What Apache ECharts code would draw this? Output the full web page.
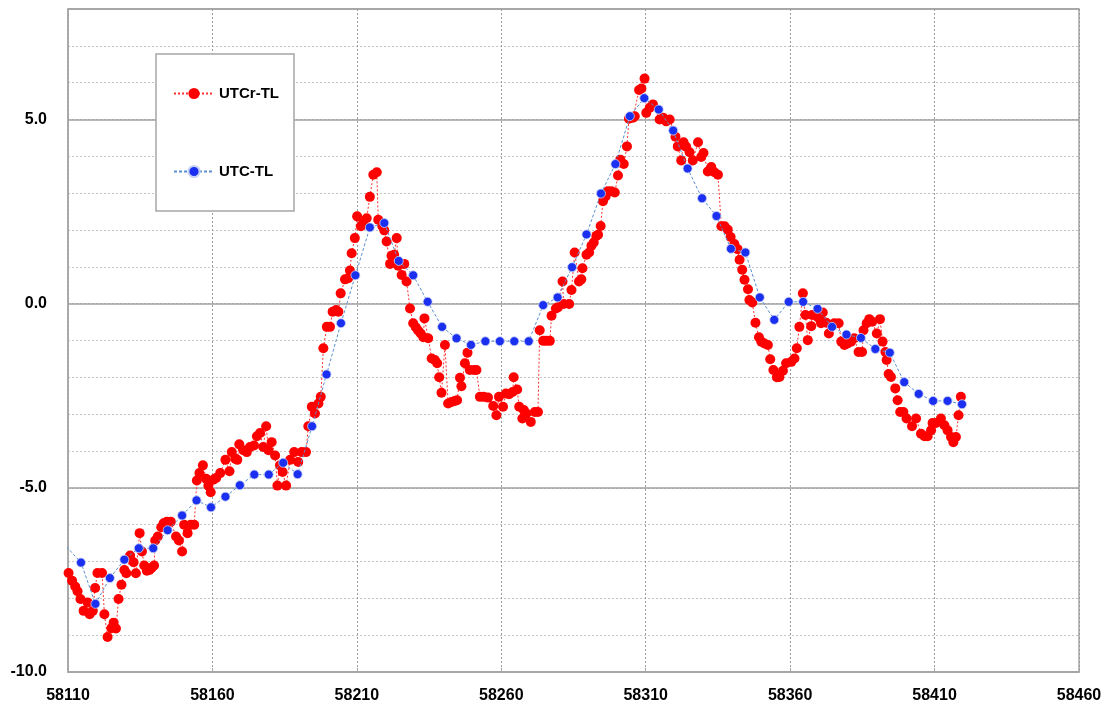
<!DOCTYPE html>
<html>
<head>
<meta charset="utf-8">
<script src="https://cdn.jsdelivr.net/npm/echarts@6/dist/echarts.min.js"></script>
<style>
  html, body { margin: 0; padding: 0; background: #fff; }
  #chart { width: 1107px; height: 711px; }
</style>
</head>
<body>
<div id="chart"></div>
<script>
// UTCr-TL (daily, rapid solution), ns
const redMjd = [
  58110.2, 58111.4, 58112.5, 58113.3, 58114.3, 58115.4, 58116.8, 58117.5, 58118.6, 58119.4,
  58120.2, 58121.8, 58122.6, 58123.7, 58125.0, 58125.8, 58126.6, 58127.5, 58128.5, 58129.5,
  58130.2, 58131.5, 58132.7, 58133.5, 58134.8, 58135.6, 58136.4, 58137.3, 58138.2, 58139.0,
  58139.8, 58140.2, 58141.1, 58142.3, 58143.1, 58144.2, 58145.6, 58147.4, 58148.4, 58149.5,
  58150.2, 58151.4, 58152.5, 58153.7, 58154.6, 58155.5, 58156.7, 58157.8, 58158.6, 58159.4,
  58160.3, 58161.3, 58162.7, 58164.5, 58165.9, 58166.7, 58167.9, 58168.6, 58169.3, 58170.7,
  58171.9, 58173.0, 58174.4, 58175.4, 58176.5, 58177.6, 58178.6, 58179.4, 58180.5, 58181.7,
  58182.5, 58183.4, 58184.3, 58185.5, 58186.9, 58188.3, 58189.7, 58190.9, 58192.4, 58193.2,
  58194.4, 58195.5, 58196.7, 58197.5, 58198.4, 58199.6, 58200.7, 58201.6, 58202.8, 58203.6,
  58204.4, 58205.9, 58207.0, 58207.6, 58208.2, 58209.3, 58210.1, 58211.4, 58212.2, 58213.4,
  58214.5, 58215.7, 58216.9, 58217.4, 58218.8, 58219.5, 58220.3, 58221.5, 58222.0, 58222.9,
  58223.8, 58224.3, 58225.5, 58226.4, 58227.2, 58228.4, 58229.5, 58230.4, 58231.2, 58232.1,
  58233.0, 58233.4, 58234.7, 58235.9, 58237.0, 58237.8, 58238.5, 58239.3, 58240.5, 58241.6,
  58242.8, 58243.9, 58244.7, 58245.7, 58246.2, 58247.4, 58248.3, 58249.1, 58250.5, 58251.4,
  58252.6, 58253.9, 58255.4, 58257.2, 58258.3, 58259.2, 58260.6, 58261.6, 58262.7, 58263.9,
  58264.3, 58265.5, 58266.2, 58267.3, 58267.8, 58268.7, 58270.2, 58271.6, 58272.7, 58273.3,
  58274.5, 58275.6, 58276.8, 58277.4, 58278.9, 58279.6, 58281.2, 58281.6, 58283.5, 58284.3,
  58285.4, 58286.9, 58287.7, 58288.1, 58289.5, 58290.4, 58291.2, 58292.0, 58292.9, 58293.5,
  58294.4, 58295.2, 58296.1, 58296.9, 58298.1, 58299.3, 58300.4, 58301.2, 58302.4, 58303.5,
  58304.2, 58305.6, 58306.2, 58307.7, 58308.5, 58309.6, 58310.2, 58311.4, 58312.5, 58314.8,
  58316.0, 58317.1, 58318.3, 58320.3, 58321.1, 58322.3, 58323.1, 58324.0, 58325.2, 58326.3,
  58328.1, 58329.2, 58330.0, 58331.5, 58332.7, 58333.8, 58335.0, 58336.2, 58337.3, 58338.4,
  58339.4, 58340.7, 58341.8, 58342.5, 58343.4, 58344.2, 58345.4, 58345.9, 58346.9, 58348.0,
  58349.2, 58350.0, 58351.1, 58352.3, 58353.1, 58354.2, 58355.4, 58356.3, 58357.5, 58358.6,
  58360.4, 58361.5, 58362.3, 58363.2, 58364.4, 58365.3, 58366.1, 58367.3, 58367.6, 58368.8,
  58369.6, 58370.4, 58370.7, 58371.3, 58371.5, 58372.5, 58373.4, 58375.3, 58376.8, 58377.7,
  58378.8, 58379.9, 58381.1, 58382.2, 58383.7, 58384.9, 58385.4, 58386.5, 58387.4, 58388.4,
  58390.0, 58391.1, 58392.0, 58393.0, 58393.4, 58394.1, 58394.9, 58396.4, 58397.2, 58398.1,
  58399.2, 58400.3, 58402.2, 58403.6, 58405.3, 58406.5, 58407.6, 58408.8, 58409.3, 58410.5,
  58412.2, 58413.4, 58414.5, 58415.7, 58416.5, 58417.4, 58418.3, 58419.1
];
const redVal = [
  -7.31, -7.52, -7.68, -7.81, -8.02, -8.34, -8.11, -8.43, -8.34, -7.72,
  -7.31, -7.31, -8.43, -9.05, -8.81, -8.66, -8.82, -8.02, -7.63, -7.23,
  -7.32, -6.84, -7.02, -7.32, -6.23, -6.73, -7.11, -7.25, -7.23, -7.17,
  -7.11, -6.43, -6.32, -6.07, -5.96, -5.92, -5.92, -6.32, -6.43, -6.73,
  -6.00, -6.23, -6.00, -6.00, -4.80, -4.60, -4.39, -4.75, -4.94, -5.12,
  -4.78, -4.73, -4.60, -4.24, -4.55, -4.03, -4.21, -4.24, -3.82, -3.98,
  -4.03, -3.89, -3.85, -3.60, -3.51, -3.89, -3.33, -3.98, -3.76, -4.12,
  -4.94, -4.39, -4.57, -4.94, -4.24, -4.03, -4.30, -4.03, -4.03, -3.33,
  -2.80, -2.98, -2.71, -2.53, -1.21, -0.63, -0.63, -0.22, -0.17, -0.22,
  0.28, 0.66, 0.69, 0.90, 1.37, 1.78, 2.37, 2.10, 2.19, 2.32,
  2.90, 3.50, 3.57, 2.28, 2.11, 1.99, 1.69, 1.08, 1.30, 1.33,
  1.78, 1.03, 0.78, 1.08, 0.60, -0.13, -0.53, -0.64, -0.73, -0.81,
  -0.91, -0.40, -0.94, -1.49, -1.53, -1.62, -2.00, -2.42, -1.12, -2.71,
  -2.67, -2.64, -2.62, -2.01, -2.24, -1.62, -1.33, -1.80, -1.80, -1.80,
  -2.53, -2.53, -2.55, -2.78, -3.03, -2.53, -2.80, -2.44, -2.46, -2.40,
  -2.00, -2.33, -2.80, -3.12, -2.89, -2.98, -3.21, -2.94, -2.94, -0.72,
  -1.01, -1.01, -1.01, -0.33, -0.13, -0.10, 0.60, -0.01, -0.01, 0.37,
  1.39, 0.60, 0.66, 0.96, 1.33, 1.39, 1.57, 1.66, 1.84, 1.87,
  2.11, 2.78, 2.91, 3.05, 3.05, 3.02, 3.48, 3.91, 3.79, 4.27,
  5.02, 5.05, 5.09, 5.80, 5.84, 6.11, 5.18, 5.32, 5.41, 5.00,
  5.05, 4.95, 5.00, 4.53, 4.27, 3.89, 4.38, 4.26, 4.11, 3.89,
  4.38, 3.98, 4.09, 3.59, 3.71, 3.57, 3.50, 2.10, 2.10, 2.01,
  1.81, 1.62, 1.48, 1.19, 0.92, 0.65, 0.39, 0.10, 0.03, -0.52,
  -0.91, -1.03, -1.08, -1.12, -1.51, -1.80, -2.00, -1.99, -1.82, -1.62,
  -1.58, -1.49, -1.21, -0.63, 0.28, -0.31, -0.99, -0.61, -0.31, -0.31,
  -0.37, -0.42, -0.53, -0.24, -0.49, -0.52, -0.81, -0.53, -0.53, -1.03,
  -1.12, -1.08, -1.03, -0.94, -1.31, -1.31, -0.72, -0.53, -0.42, -0.49,
  -0.81, -0.42, -1.03, -1.31, -1.53, -1.91, -1.99, -2.30, -2.62, -2.94,
  -2.94, -3.12, -3.33, -3.12, -3.53, -3.60, -3.60, -3.44, -3.24, -3.24,
  -3.12, -3.30, -3.44, -3.62, -3.76, -3.62, -3.03, -2.53
];

// UTC-TL (5-day values), ns
const blueMjd = [
  58109.5, 58114.5, 58119.5, 58124.5, 58129.5, 58134.5, 58139.5, 58144.5, 58149.5, 58154.5,
  58159.5, 58164.5, 58169.5, 58174.5, 58179.5, 58184.5, 58189.5, 58194.5, 58199.5, 58204.5,
  58209.5, 58214.5, 58219.5, 58224.5, 58229.5, 58234.5, 58239.5, 58244.5, 58249.5, 58254.5,
  58259.5, 58264.5, 58269.5, 58274.5, 58279.5, 58284.5, 58289.5, 58294.5, 58299.5, 58304.5,
  58309.5, 58314.5, 58319.5, 58324.5, 58329.5, 58334.5, 58339.5, 58344.5, 58349.5, 58354.5,
  58359.5, 58364.5, 58369.5, 58374.5, 58379.5, 58384.5, 58389.5, 58394.5, 58399.5, 58404.5,
  58409.5, 58414.5, 58419.5
];
const blueVal = [
  -6.60, -7.03, -8.15, -7.45, -6.95, -6.64, -6.64, -6.15, -5.75, -5.34,
  -5.53, -5.24, -4.93, -4.64, -4.64, -4.32, -4.63, -3.33, -1.92, -0.53,
  0.77, 2.07, 2.19, 1.16, 0.77, 0.05, -0.63, -0.94, -1.12, -1.02,
  -1.02, -1.02, -1.02, -0.04, 0.17, 0.99, 1.88, 2.99, 3.79, 5.09,
  5.58, 5.27, 4.70, 3.67, 2.86, 2.38, 1.49, 1.39, 0.17, -0.44,
  0.05, 0.05, -0.14, -0.63, -0.84, -0.93, -1.23, -1.33, -2.13, -2.45,
  -2.64, -2.64, -2.73
];

const seriesNames = ['UTCr-TL', 'UTC-TL'];

const zip = (xs, ys) => xs.map((x, i) => [x, ys[i]]);

const labelFont = {
  color: '#000',
  fontFamily: 'Liberation Sans, Arial, sans-serif',
  fontWeight: 'bold',
  fontSize: 16
};

const chart = echarts.init(document.getElementById('chart'));
chart.setOption({
  animation: false,
  backgroundColor: '#fff',
  grid: {
    left: 68, top: 9, right: 28, bottom: 39,
    show: true,
    borderColor: '#a6a6a6',
    borderWidth: 1.5
  },
  legend: {
    data: seriesNames,
    orient: 'vertical',
    left: 156,
    top: 54,
    padding: [32, 15, 32, 17],
    itemGap: 63,
    itemWidth: 40,
    itemHeight: 14,
    backgroundColor: '#fff',
    borderColor: '#a6a6a6',
    borderWidth: 1.5,
    textStyle: Object.assign({}, labelFont, { fontSize: 15 })
  },
  xAxis: {
    type: 'value',
    min: 58110,
    max: 58460,
    interval: 50,
    axisLine: { show: true, onZero: false, lineStyle: { color: '#a6a6a6', width: 1.5 } },
    axisTick: { show: true, inside: true, length: 4, lineStyle: { color: '#a6a6a6' } },
    axisLabel: Object.assign({ margin: 16, formatter: v => String(v) }, labelFont),
    splitLine: { show: true, lineStyle: { color: '#9a9a9a', type: [2, 2], width: 1 } }
  },
  yAxis: [
    {
      type: 'value',
      min: -10,
      max: 8,
      interval: 1,
      axisLine: { show: true, onZero: false, lineStyle: { color: '#a6a6a6', width: 1.5 } },
      axisTick: { show: false },
      axisLabel: Object.assign({
        margin: 21,
        formatter: v => (v % 5 === 0 ? v.toFixed(1) : '')
      }, labelFont),
      splitLine: { show: true, lineStyle: { color: '#c4c4c4', type: [2, 2], width: 1 } }
    },
    {
      // major gridlines every 5 units
      type: 'value',
      min: -10,
      max: 8,
      interval: 5,
      position: 'left',
      axisLine: { show: false },
      axisTick: { show: false },
      axisLabel: { show: false },
      splitLine: { show: true, lineStyle: { color: '#a0a0a0', type: 'solid', width: 1.5 } }
    }
  ],
  series: [
    {
      name: seriesNames[0],
      type: 'line',
      data: zip(redMjd, redVal),
      symbol: 'circle',
      symbolSize: 10,
      showAllSymbol: true,
      clip: true,
      itemStyle: { color: '#ff0000' },
      lineStyle: { color: '#ff3030', width: 1, type: [2, 2] },
      z: 3
    },
    {
      name: seriesNames[1],
      type: 'line',
      data: zip(blueMjd, blueVal),
      symbol: 'circle',
      symbolSize: 9,
      showAllSymbol: true,
      clip: true,
      itemStyle: { color: '#1a2ff0', borderColor: '#c8d2f4', borderWidth: 0.8 },
      lineStyle: { color: '#5b8fd0', width: 1, type: [3, 2] },
      z: 4
    }
  ]
});
</script>
</body>
</html>
